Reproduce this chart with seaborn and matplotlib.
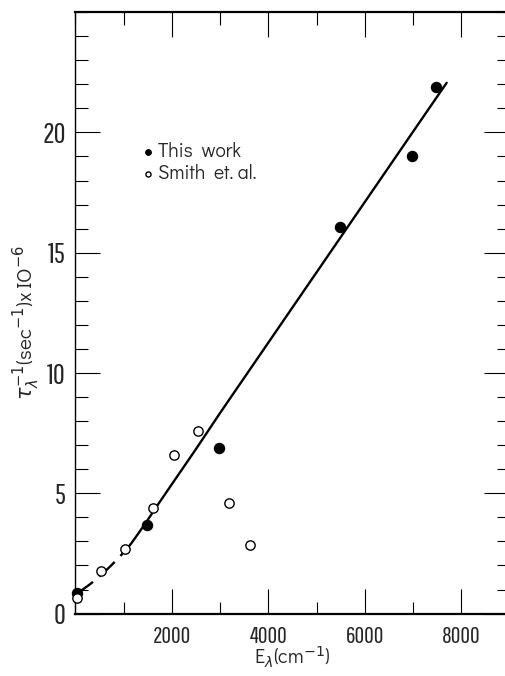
import matplotlib
matplotlib.use("Agg")
import matplotlib.pyplot as plt
from matplotlib.ticker import MultipleLocator, FixedLocator
import seaborn as sns
import pandas as pd

# Measured relaxation rates, this work (filled symbols)
this_work_E = [30, 1480, 2980, 5490, 6980, 7470]
this_work_rate = [0.85, 3.7, 6.9, 16.05, 19.0, 21.9]

# Relaxation rates of Smith et al. (open symbols)
smith_E = [30, 530, 1020, 1610, 2045, 2540, 3180, 3610]
smith_rate = [0.65, 1.76, 2.7, 4.38, 6.58, 7.6, 4.6, 2.85]

# Drawn curve: dashed extrapolation at low energy, solid fit beyond
dashed_E = [0, 150, 300, 450, 600, 750, 900, 1050, 1150]
dashed_rate = [0.82, 1.0, 1.22, 1.46, 1.73, 2.02, 2.33, 2.65, 2.9]
solid_E = [1150, 1300, 1500, 1700, 2000, 2500, 3000, 4000, 5000, 6000, 7000, 7700]
solid_rate = [2.9, 3.32, 3.9, 4.5, 5.38, 6.84, 8.34, 11.26, 14.18, 17.1, 20.02, 22.06]

x_major = [2000, 4000, 6000, 8000]
y_major = [0, 5, 10, 15, 20]

sns.set_style("ticks")
plt.rcParams["font.family"] = ["Didact Gothic", "DejaVu Sans"]
plt.rcParams["mathtext.fontset"] = "dejavusans"

W, H = 506, 676
fig = plt.figure(figsize=(W / 100, H / 100), dpi=100)
ax = fig.add_axes([75.5 / W, (H - 613.6) / H, (509.3 - 75.5) / W, (613.6 - 12.1) / H])

df_this = pd.DataFrame({"E": this_work_E, "rate": this_work_rate})
df_smith = pd.DataFrame({"E": smith_E, "rate": smith_rate})
df_dash = pd.DataFrame({"E": dashed_E, "rate": dashed_rate})
df_solid = pd.DataFrame({"E": solid_E, "rate": solid_rate})

sns.lineplot(data=df_solid, x="E", y="rate", ax=ax, color="black", lw=1.7, sort=False)
sns.lineplot(data=df_dash, x="E", y="rate", ax=ax, color="black", lw=1.7, sort=False,
             linestyle=(0, (9, 3.5)))
sns.scatterplot(data=df_this, x="E", y="rate", ax=ax, color="black", s=55,
                edgecolor="black", linewidth=0.8, zorder=5, label="This  work", clip_on=False)
sns.scatterplot(data=df_smith, x="E", y="rate", ax=ax, color="white", s=45,
                edgecolor="black", linewidth=1.0, zorder=5, label="Smith  et. al.", clip_on=False)

ax.set_xlim(0, 9000)
ax.set_ylim(0, 25)

ax.xaxis.set_major_locator(FixedLocator(x_major))
ax.xaxis.set_minor_locator(MultipleLocator(1000))
ax.yaxis.set_major_locator(FixedLocator(y_major))
ax.yaxis.set_minor_locator(MultipleLocator(1))
ax.tick_params(which="both", direction="in", top=True, right=True, width=0.8, color="black")
ax.tick_params(which="major", length=18, pad=7)
ax.tick_params(which="minor", length=9)
ax.tick_params(axis="x", which="major", pad=9)

for lab in ax.get_yticklabels():
    lab.set_fontfamily(["Pathway Gothic One", "DejaVu Sans"])
    lab.set_fontsize(21)
for lab in ax.get_xticklabels():
    lab.set_fontfamily(["Pathway Gothic One", "DejaVu Sans"])
    lab.set_fontsize(17)

for side in ["left", "right", "top", "bottom"]:
    ax.spines[side].set_visible(True)
    ax.spines[side].set_color("black")
ax.spines["left"].set_linewidth(1.0)
ax.spines["bottom"].set_linewidth(1.6)
ax.spines["top"].set_linewidth(1.6)
ax.spines["right"].set_linewidth(1.0)

ax.set_xlabel(r"E$_\lambda$(cm$^{-1}$)", fontsize=14.5)
ax.xaxis.set_label_coords(0.5, -0.052)
ax.set_ylabel(r"$\tau_\lambda^{-1}$(sec$^{-1}$)x$\,$IO$^{-6}$", fontsize=15)
ax.yaxis.set_label_coords(-0.078, 0.485)

leg = ax.legend(loc="upper left", bbox_to_anchor=(0.127, 0.797), frameon=False,
                fontsize=14, markerscale=0.55, handletextpad=0.0, labelspacing=0.15,
                borderaxespad=0, handlelength=1.0)

fig.savefig("out.png", dpi=100, facecolor="white")
